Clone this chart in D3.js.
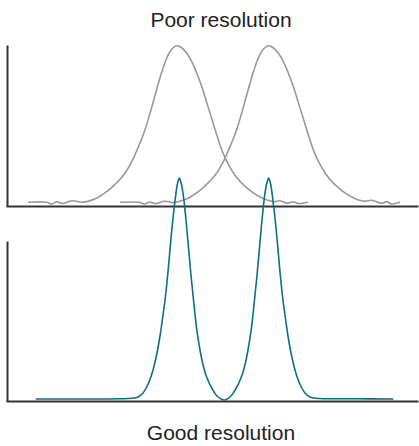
<!DOCTYPE html>
<html lang="en">
<head>
    <meta charset="UTF-8">
    <title>Poor vs good resolution</title>
    <script src="https://cdn.jsdelivr.net/npm/d3@7"></script>
    <style>
        body {margin: 0; background: white}
        text {
            font-family: "Liberation Sans", Arial, sans-serif;
            font-size: 21px;
            fill: #222;
        }
        .axis path {stroke: #333; stroke-width: 2}
    </style>
</head>
<body>
<script>
    const width = 419;
    const height = 446;

    // [time, signal]
    const poorPeakA = [[11,1.85],[20.5,1.85],[22.75,1],[25.5,2.1],[28,1.25],[33,2.6],[38,1.85],[41,2.35],
        [44,3.35],[47,4.85],[50,6.85],[53.5,9.75],[57,13.25],[60,17],[62.85,22],[66,29],[68.65,35.5],
        [70.35,40.5],[72.85,49],[75.35,58],[77.85,66.5],[80.35,73.5],[82.75,77.75],[85.35,79.65],[88,78.5],
        [90.5,75.75],[93,71.5],[95.5,65.75],[98,59],[100.5,51],[103,43],[105.5,35],[108,27.5],[111,21],
        [114,16],[117,12.25],[120.5,9],[124,6.25],[127.5,4.25],[131,2.85],[134,2.1],[137,2.6],[140.5,1.35],
        [143.5,2.1],[146,1.25],[151,1.85]];

    const poorPeakB = [[57,1.85],[66.5,1.85],[69.25,1],[72,2],[74.5,1.2],[79.5,2.35],[83.8,1.7],[86.8,2.35],
        [89.8,3.35],[92.8,4.85],[95.8,6.85],[99.3,9.75],[102.8,13.25],[105.8,17],[108.65,22],[111.8,29],
        [114.45,35.5],[116.15,40.5],[118.65,49],[121.15,58],[123.65,66.5],[126.15,73.5],[128.55,77.75],
        [131.15,79.65],[133.8,78.5],[136.3,75.75],[138.8,71.5],[141.3,65.75],[143.8,59],[146.3,51],[148.8,43],
        [151.3,35],[153.8,27.5],[156.8,21],[159.8,16],[162.8,12.25],[166.3,9],[169.8,6.25],[173.3,4.25],
        [176.8,2.85],[179.5,2.4],[182.85,2.85],[187.85,1.35],[190.35,2.15],[192.85,1],[197,1.85]];

    const goodTrace = [[14.85,1],[37,1],[57,1.1],[63,1.35],[66,2],[68.5,4],[70.5,7.25],[72.25,11.5],[73.65,16],
        [75.5,24],[77,32.5],[78.5,43],[79.75,52.5],[81,64.5],[82.25,78.5],[83.5,91.5],[84.75,102],[85.75,108.75],
        [86.65,111.5],[87.5,109.25],[88.5,104],[89.75,93],[91,79.5],[92.25,65.5],[93.5,53],[95.35,36],[97,25.5],
        [98.65,17.5],[100.5,11.5],[102.85,6.5],[105.5,2.5],[109.15,0.5],[112.5,2.5],[115.15,6.5],[117.5,11.5],
        [119.35,17.5],[121,25.5],[122.65,36],[124.5,53],[125.75,65.5],[127,79.5],[128.25,93],[129.5,104],
        [130.5,109.25],[131.35,111.5],[132.25,108.75],[133.25,102],[134.5,91.5],[135.75,78.5],[137,64.5],
        [138.25,52.5],[139.5,43],[141,32.5],[142.5,24],[144.35,16],[145.75,11.5],[147.5,7.25],[149.5,4],
        [152,2],[155,1.35],[175,1.1],[193.65,1]];

    const titles = ["Poor resolution", "Good resolution"];

    const svg = d3.select("body").append("svg")
            .attr("width", width).attr("height", height);

    const x = d3.scaleLinear().domain([0, 206]).range([6, 418]);
    const yTop = d3.scaleLinear().domain([0, 80]).range([206, 45]);
    const yBottom = d3.scaleLinear().domain([0, 80]).range([401, 241]);

    const lineTop = d3.line().x(d => x(d[0])).y(d => yTop(d[1])).curve(d3.curveCatmullRom);
    const lineBottom = d3.line().x(d => x(d[0])).y(d => yBottom(d[1])).curve(d3.curveCatmullRom);

    drawAxes(yTop);
    drawAxes(yBottom);

    svg.selectAll("path.poor")
        .data([poorPeakA, poorPeakB])
        .join("path")
        .attr("class", "poor")
        .attr("d", lineTop)
        .style("fill", "none")
        .style("stroke", "#999")
        .style("stroke-width", 1.6);

    svg.append("path")
        .datum(goodTrace)
        .attr("d", lineBottom)
        .style("fill", "none")
        .style("stroke", "#0d6e85")
        .style("stroke-width", 1.6);

    svg.append("text")
        .attr("x", 221).attr("y", 27)
        .style("text-anchor", "middle")
        .text(titles[0]);

    svg.append("text")
        .attr("x", 221).attr("y", 440)
        .style("text-anchor", "middle")
        .text(titles[1]);

    function drawAxes(y) {
        svg.append("g").attr("class", "axis")
            .attr("transform", `translate(0,${y(0)})`)
            .call(d3.axisBottom(x).tickValues([]).tickSizeOuter(0));
        svg.append("g").attr("class", "axis")
            .attr("transform", `translate(${x(0) + 1},0)`)
            .call(d3.axisLeft(y).tickValues([]).tickSizeOuter(0));
    }
</script>
</body>
</html>
